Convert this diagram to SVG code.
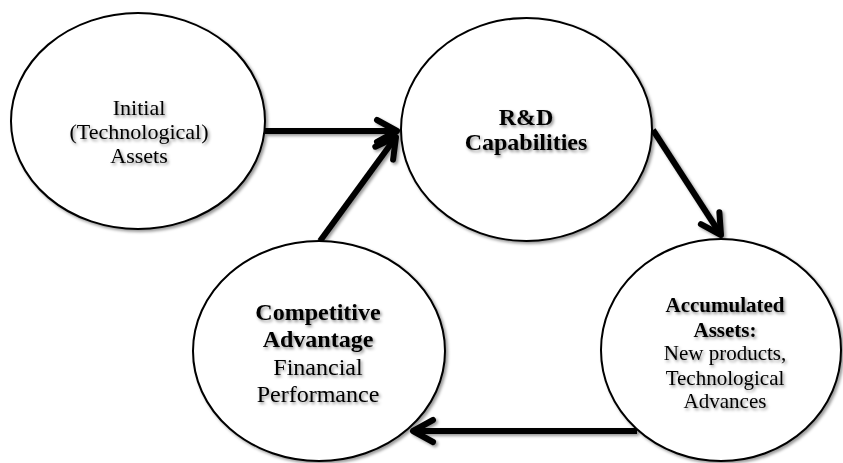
<svg xmlns="http://www.w3.org/2000/svg" width="843" height="463" viewBox="0 0 843 463">
<defs>
<filter id="sh" x="-10%" y="-10%" width="130%" height="130%">
<feDropShadow dx="2" dy="2" stdDeviation="1.5" flood-color="#000" flood-opacity="0.4"/>
</filter>
<filter id="tsh" x="-10%" y="-20%" width="130%" height="150%">
<feDropShadow dx="1.5" dy="2" stdDeviation="1.5" flood-color="#000" flood-opacity="0.45"/>
</filter>
<marker id="chev" markerUnits="userSpaceOnUse" viewBox="-26 -16 32 32" refX="0" refY="0" markerWidth="32" markerHeight="32" orient="auto" overflow="visible">
<path d="M-20,-11 L0,0 L-20,11" fill="none" stroke="#000" stroke-width="6" stroke-linecap="round" stroke-linejoin="round"/>
</marker>
</defs>
<style>
.node ellipse{fill:#fff;stroke:#000;stroke-width:2}
.t{font-family:"Liberation Serif","Times New Roman",serif;fill:#000;text-anchor:middle}
.b{font-weight:bold}
.conn line{stroke:#000;stroke-width:6;marker-end:url(#chev)}
</style>
<g id="connectors" filter="url(#sh)">
<g class="conn">
<line x1="265" y1="131" x2="397" y2="131"/>
<line x1="320" y1="241" x2="396" y2="137"/>
<line x1="653" y1="130" x2="721" y2="235"/>
<line x1="637" y1="431" x2="413" y2="431"/>
</g>
</g>
<g id="n-initial" class="node">
<ellipse cx="138" cy="121" rx="127" ry="108" filter="url(#sh)"/>
<g filter="url(#tsh)">
<text class="t" x="139" y="115" font-size="22">Initial</text>
<text class="t" x="139" y="139" font-size="22">(Technological)</text>
<text class="t" x="139" y="163" font-size="22">Assets</text>
</g>
</g>
<g id="n-rd" class="node">
<ellipse cx="526.5" cy="129.5" rx="125.5" ry="111.5" filter="url(#sh)"/>
<g filter="url(#tsh)">
<text class="t b" x="526" y="125" font-size="24">R&amp;D</text>
<text class="t b" x="526" y="150" font-size="24">Capabilities</text>
</g>
</g>
<g id="n-accum" class="node">
<ellipse cx="721" cy="350" rx="120" ry="111" filter="url(#sh)"/>
<g filter="url(#tsh)">
<text class="t b" x="725" y="312" font-size="21">Accumulated</text>
<text class="t b" x="725" y="337" font-size="21">Assets:</text>
<text class="t" x="725" y="360" font-size="21">New products,</text>
<text class="t" x="725" y="385" font-size="21">Technological</text>
<text class="t" x="725" y="408" font-size="21">Advances</text>
</g>
</g>
<g id="n-comp" class="node">
<ellipse cx="319" cy="351" rx="126" ry="110" filter="url(#sh)"/>
<g filter="url(#tsh)">
<text class="t b" x="318" y="320" font-size="24">Competitive</text>
<text class="t b" x="318" y="347" font-size="24">Advantage</text>
<text class="t" x="318" y="375" font-size="24">Financial</text>
<text class="t" x="318" y="402" font-size="24">Performance</text>
</g>
</g>
</svg>
